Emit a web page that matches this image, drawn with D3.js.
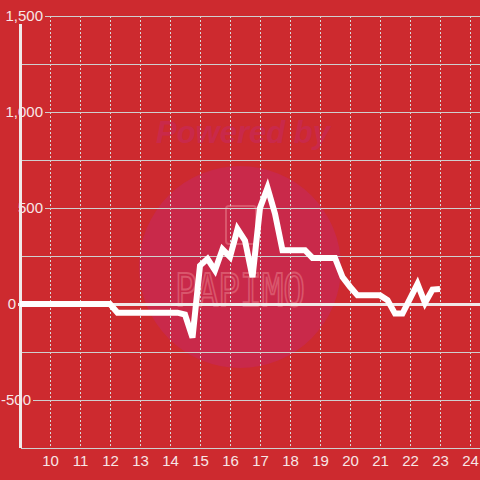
<!DOCTYPE html>
<html>

<head>
    <style>
        body {
            margin: 0;
            background: #cd2a2f;
        }

        .tick-label {
            fill: #f7e6e6;
            font: 15px "Liberation Sans", Arial, sans-serif;
        }

        .grid-h {
            stroke: #cfcfcf;
            stroke-width: 1px;
        }

        .grid-v {
            stroke: #d9d9d9;
            stroke-width: 1px;
            stroke-dasharray: 2, 2;
        }

        .line {
            fill: none;
            stroke: #ffffff;
            stroke-width: 6px;
        }
    </style>
    <script src="https://d3js.org/d3.v7.min.js"></script>
    <title> Line chart </title>
</head>

<body>
    <svg width="480" height="480" id="chart"></svg>
    <script>

        // hours of the day and the value at each reading
        var times = [9, 12, 12.25, 14.25, 14.5, 14.75, 15, 15.25, 15.5, 15.75, 16, 16.25, 16.5, 16.75,
            17, 17.25, 17.5, 17.75, 18.5, 18.75, 19.5, 19.75, 20, 20.25, 21, 21.25, 21.5, 21.75,
            22.25, 22.5, 22.75, 23];
        var values = [0, 0, -45, -45, -55, -175, 200, 235, 175, 285, 245, 390, 330, 140,
            500, 605, 470, 280, 280, 240, 240, 140, 90, 45, 45, 20, -50, -50,
            105, 5, 75, 78];

        var xTicks = [10, 11, 12, 13, 14, 15, 16, 17, 18, 19, 20, 21, 22, 23, 24];
        var yTicks = [1500, 1000, 500, 0, -500];
        var yMinorTicks = [1250, 750, 250, -250, -750];

        var svg = d3.select("svg#chart"),
            width = +svg.attr("width"),
            height = +svg.attr("height");

        var x = d3.scaleLinear().domain([9, 24 + 1 / 3]).range([20, 480]);
        var y = d3.scaleLinear().domain([-750, 1500]).range([448, 16]);

        svg.append("rect")
            .attr("width", width).attr("height", height)
            .attr("fill", "#cd2a2f");

        // watermark
        var wm = svg.append("g");
        wm.append("circle")
            .attr("cx", 240).attr("cy", 267).attr("r", 101)
            .attr("fill", "#c9294a");
        wm.append("text")
            .attr("x", 243).attr("y", 143)
            .attr("text-anchor", "middle")
            .attr("font-family", "Liberation Sans, Arial, sans-serif")
            .attr("font-size", "31px")
            .attr("font-weight", "bold")
            .attr("font-style", "italic")
            .attr("fill", "#c9294a")
            .text("Powered by");
        wm.append("rect")
            .attr("x", 226).attr("y", 206).attr("width", 30).attr("height", 38)
            .attr("rx", 3)
            .attr("fill", "none")
            .attr("stroke", "#d9566c")
            .attr("stroke-width", 2);
        wm.append("text")
            .attr("x", 175).attr("y", 306)
            .attr("textLength", 130)
            .attr("lengthAdjust", "spacingAndGlyphs")
            .attr("font-family", "DejaVu Sans Mono, monospace")
            .attr("font-size", "44px")
            .attr("fill", "none")
            .attr("stroke", "#d9566c")
            .attr("stroke-width", 2)
            .text("PAPIMO");

        // vertical dashed grid
        svg.selectAll(".grid-v")
            .data(xTicks)
            .enter()
            .append("line")
            .attr("class", "grid-v")
            .attr("x1", function (d) { return x(d) + 0.5; })
            .attr("x2", function (d) { return x(d) + 0.5; })
            .attr("y1", y(1500))
            .attr("y2", y(-750));

        // unlabelled horizontal grid
        svg.selectAll(".grid-minor")
            .data(yMinorTicks)
            .enter()
            .append("line")
            .attr("class", "grid-h")
            .attr("x1", 21).attr("x2", width)
            .attr("y1", function (d) { return y(d) + 0.5; })
            .attr("y2", function (d) { return y(d) + 0.5; });

        // y axis line
        svg.append("line")
            .attr("x1", 20.5).attr("x2", 20.5)
            .attr("y1", 24).attr("y2", y(-750))
            .attr("stroke", "#f0eaea")
            .attr("stroke-width", 3);

        // labelled horizontal grid, each starting just after its label
        var labelEnd = { "1500": 43, "1000": 43, "500": 43, "0": 16, "-500": 31 };
        var fmt = d3.format(",");
        yTicks.forEach(function (d) {
            var end = labelEnd[d];
            svg.append("line")
                .attr("class", d === 0 ? "" : "grid-h")
                .attr("x1", end + 2).attr("x2", width)
                .attr("y1", y(d) + 0.5).attr("y2", y(d) + 0.5)
                .attr("stroke", d === 0 ? "#f0e8e8" : null)
                .attr("stroke-width", d === 0 ? 3 : null);
        });

        // the series
        var valueline = d3.line()
            .x(function (d, i) { return x(times[i]); })
            .y(function (d) { return y(d); });

        svg.append("path")
            .datum(values)
            .attr("class", "line")
            .attr("d", valueline);

        // y labels sit on top of the axis
        svg.selectAll(".y-label")
            .data(yTicks)
            .enter()
            .append("text")
            .attr("class", "tick-label")
            .attr("x", function (d) { return labelEnd[d]; })
            .attr("y", function (d) { return y(d); })
            .attr("dy", "0.36em")
            .attr("text-anchor", "end")
            .text(function (d) { return d3.format(",")(d).replace("−", "-"); });

        // x tick labels
        svg.selectAll(".x-label")
            .data(xTicks)
            .enter()
            .append("text")
            .attr("class", "tick-label")
            .attr("x", function (d) { return x(d) + 0.5; })
            .attr("y", 466)
            .attr("text-anchor", "middle")
            .text(function (d) { return d; });

    </script>
</body>

</html>
